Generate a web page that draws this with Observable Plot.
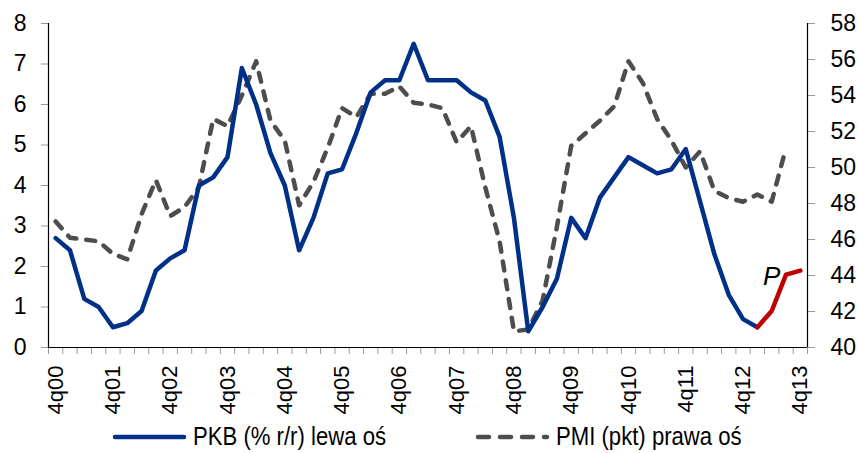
<!DOCTYPE html>
<html>
<head>
<meta charset="utf-8">
<script src="https://cdn.jsdelivr.net/npm/d3@7"></script>
<script src="https://cdn.jsdelivr.net/npm/@observablehq/plot@0.6"></script>
<style>
  html, body { margin: 0; padding: 0; background: #fff; }
  #chart { width: 858px; }
  .legend { position: relative; width: 858px; height: 33px; font-family: "Liberation Sans", Arial, sans-serif; font-size: 25px; color: #000; }
  .legend .item { position: absolute; top: 0; height: 33px; display: flex; align-items: center; white-space: nowrap; }
  .legend svg { margin-right: 5px; }
  .legend span { display: inline-block; transform: scaleX(0.885); transform-origin: left center; }
</style>
</head>
<body>
<div id="chart"></div>
<div class="legend">
  <div class="item" style="left:112px"><svg width="76" height="10"><line x1="3" y1="5" x2="72" y2="5" stroke="#003087" stroke-width="4.5" stroke-linecap="round"/></svg><span>PKB (% r/r) lewa oś</span></div>
  <div class="item" style="left:475px"><svg width="76" height="10"><line x1="3" y1="5" x2="72" y2="5" stroke="#4d4d50" stroke-width="4.5" stroke-linecap="round" stroke-dasharray="11,11"/></svg><span>PMI (pkt) prawa oś</span></div>
</div>
<script>
const quarters = ["4q00","1q01","2q01","3q01","4q01","1q02","2q02","3q02","4q02","1q03","2q03","3q03","4q03",
  "1q04","2q04","3q04","4q04","1q05","2q05","3q05","4q05","1q06","2q06","3q06","4q06",
  "1q07","2q07","3q07","4q07","1q08","2q08","3q08","4q08","1q09","2q09","3q09","4q09",
  "1q10","2q10","3q10","4q10","1q11","2q11","3q11","4q11","1q12","2q12","3q12","4q12",
  "1q13","2q13","3q13","4q13"];
const pkb = [2.7,2.4,1.2,1.0,0.5,0.6,0.9,1.9,2.2,2.4,
  4.0,4.2,4.7,6.9,6.0,4.8,4.0,2.4,3.2,4.3,
  4.4,5.3,6.3,6.6,6.6,7.5,6.6,6.6,6.6,6.3,
  6.1,5.2,3.2,0.4,1.0,1.7,3.2,2.7,3.7,4.2,
  4.7,4.5,4.3,4.4,4.9,3.6,2.3,1.3,0.7,0.5,
  null,null,null];
const pkbForecastQuarters = ["1q13","2q13","3q13","4q13"];
const pkbForecast = [0.5,0.9,1.8,1.9];
const pmi = [47.0,46.1,46.0,45.9,45.2,44.9,47.4,49.3,47.3,47.8,
  48.9,52.7,52.3,54.0,55.9,52.6,51.5,47.9,49.2,51.1,
  53.3,52.8,54.1,54.1,54.5,53.6,53.5,53.3,51.4,52.3,
  48.9,45.9,40.9,41.0,42.6,46.7,51.2,51.9,52.6,53.4,
  55.9,54.7,52.7,51.5,50.0,50.9,48.7,48.3,48.1,48.5,
  48.1,51.1,null];
const leftTicks = [0,1,2,3,4,5,6,7,8];
const rightTicks = [40,42,44,46,48,50,52,54,56,58];
const xLabelQuarters = ["4q00","4q01","4q02","4q03","4q04","4q05","4q06","4q07","4q08","4q09","4q10","4q11","4q12","4q13"];
const annotation = [{q: "2q13", v: 1.55, text: "P"}];

const leftMin = 0, leftMax = 8, rightMin = 40, rightMax = 58;
const toLeft = p => leftMin + (p - rightMin) * (leftMax - leftMin) / (rightMax - rightMin);
const qi = q => quarters.indexOf(q);

const pkbData = quarters.map((q, i) => ({i, v: pkb[i]})).filter(d => d.v != null);
const fcData = pkbForecastQuarters.map((q, k) => ({i: qi(q), v: pkbForecast[k]}));
const pmiData = quarters.map((q, i) => ({i, v: pmi[i] == null ? null : toLeft(pmi[i])})).filter(d => d.v != null);
const boundaries = d3.range(-0.5, quarters.length, 1);

const FONT = '"Liberation Sans", Arial, sans-serif';

const chart = Plot.plot({
  width: 858,
  height: 420,
  marginLeft: 48,
  marginRight: 51,
  marginTop: 23,
  marginBottom: 73,
  style: {fontFamily: FONT, fontSize: "23px", color: "#000", background: "#fff"},
  x: {type: "linear", domain: [-0.5, quarters.length - 0.5]},
  y: {domain: [leftMin, leftMax]},
  marks: [
    Plot.axisY({anchor: "left", ticks: leftTicks, tickSize: 7, tickPadding: 15, stroke: "#999", fill: "#000", tickFormat: d => String(d), fontSize: 23, fontFamily: FONT, label: null}),
    Plot.axisY({anchor: "right", ticks: rightTicks.map(toLeft), tickSize: 7, tickPadding: 16, stroke: "#999", fill: "#000",
      tickFormat: v => String(Math.round(rightMin + (v - leftMin) * (rightMax - rightMin) / (leftMax - leftMin))), fontSize: 23, fontFamily: FONT, label: null}),
    Plot.axisX({ticks: boundaries, tickSize: 7, stroke: "#999", tickFormat: () => "", label: null}),
    Plot.axisX({ticks: xLabelQuarters.map(qi), tickSize: 0, tickPadding: 18, tickRotate: -90, tickFormat: i => quarters[i],
      fontSize: 22, fontFamily: FONT, fill: "#000", label: null}),
    Plot.ruleX([-0.5], {stroke: "#000", strokeWidth: 1.2}),
    Plot.ruleX([quarters.length - 0.5], {stroke: "#000", strokeWidth: 1.2}),
    Plot.ruleY([0], {stroke: "#000", strokeWidth: 1.2}),
    Plot.line(pmiData, {x: "i", y: "v", stroke: "#4d4d50", strokeWidth: 4.5, strokeDasharray: "9,10", strokeLinecap: "round", strokeLinejoin: "round"}),
    Plot.line(pkbData, {x: "i", y: "v", stroke: "#003087", strokeWidth: 4.5, strokeLinejoin: "round"}),
    Plot.line(fcData, {x: "i", y: "v", stroke: "#c00000", strokeWidth: 4.5, strokeLinejoin: "round"}),
    Plot.text(annotation, {x: d => qi(d.q), y: "v", text: "text", fontStyle: "italic", fontSize: 26, fontFamily: FONT, fill: "#000", textAnchor: "middle", lineAnchor: "bottom"})
  ]
});
document.getElementById("chart").appendChild(chart);
</script>
</body>
</html>
